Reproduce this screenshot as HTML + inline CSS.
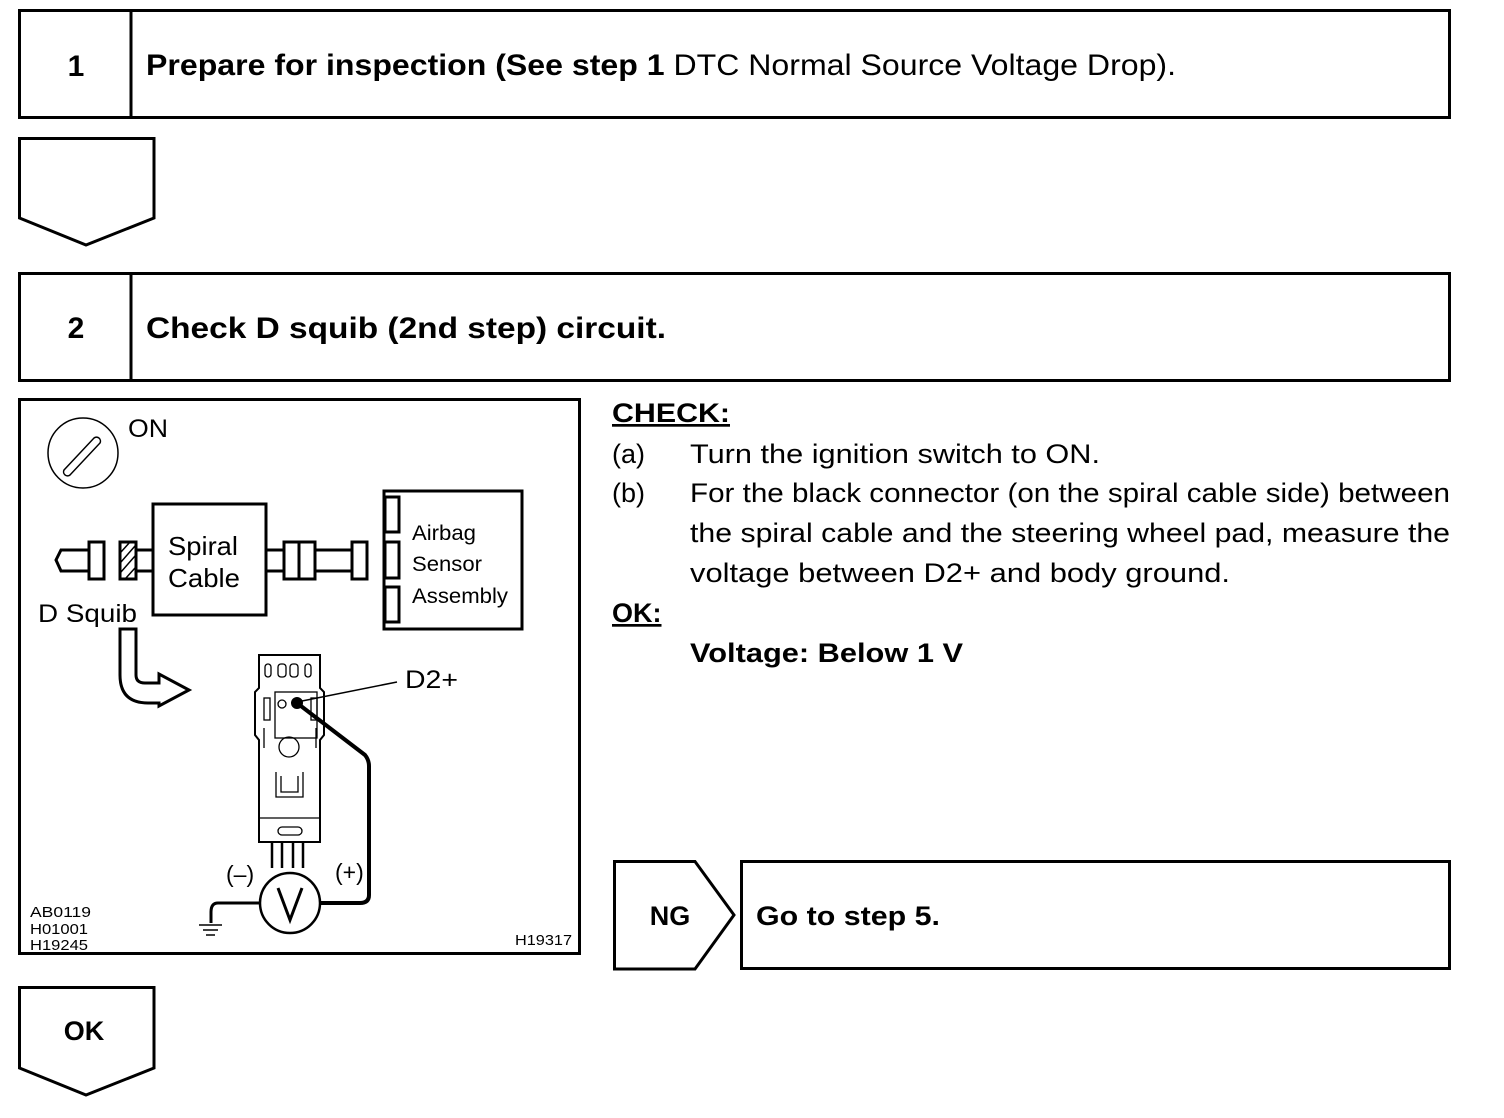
<!DOCTYPE html>
<html><head><style>
html,body{margin:0;padding:0;background:#fff}
svg{display:block}
text{font-family:"Liberation Sans",Arial,sans-serif;fill:#000}
</style></head><body>
<svg width="1504" height="1118" viewBox="0 0 1504 1118" xmlns="http://www.w3.org/2000/svg">
<g fill="none" stroke="#000" stroke-width="3">
<rect x="19.5" y="10.5" width="1430" height="107"/>
<line x1="131" y1="10" x2="131" y2="117"/>
<path d="M19.5,138.5 H154 V218 L86,245 L19.5,218 Z"/>
<rect x="19.5" y="273.5" width="1430" height="107"/>
<line x1="131" y1="273" x2="131" y2="381"/>
<rect x="19.5" y="399.5" width="560" height="554"/>
<path d="M614.5,861.5 H695 L734,915 L695,969 H614.5 Z"/>
<rect x="741.5" y="861.5" width="708" height="107"/>
<path d="M19.5,987.5 H154 V1068 L86,1095 L19.5,1068 Z"/>
</g>
<text x="76" y="76" font-size="30" font-weight="bold" text-anchor="middle">1</text>
<text x="146" y="75" font-size="30" textLength="1030" lengthAdjust="spacingAndGlyphs"><tspan font-weight="bold">Prepare for inspection (See step </tspan><tspan font-weight="bold">1 </tspan><tspan>DTC Normal Source Voltage Drop).</tspan></text>
<text x="76" y="338" font-size="30" font-weight="bold" text-anchor="middle">2</text>
<text x="146" y="338" font-size="30" font-weight="bold" textLength="520" lengthAdjust="spacingAndGlyphs">Check D squib (2nd step) circuit.</text>
<text x="670" y="925" font-size="27" font-weight="bold" text-anchor="middle">NG</text>
<text x="756" y="925" font-size="27" font-weight="bold" textLength="184" lengthAdjust="spacingAndGlyphs">Go to step 5.</text>
<text x="84" y="1040" font-size="27" font-weight="bold" text-anchor="middle">OK</text>

<text x="612" y="422" font-size="27" font-weight="bold" text-decoration="underline" textLength="118" lengthAdjust="spacingAndGlyphs">CHECK:</text>
<text x="612" y="463" font-size="27">(a)</text>
<text x="690" y="463" font-size="27" textLength="410" lengthAdjust="spacingAndGlyphs">Turn the ignition switch to ON.</text>
<text x="612" y="502" font-size="27">(b)</text>
<text x="690" y="502" font-size="27" textLength="760" lengthAdjust="spacingAndGlyphs">For the black connector (on the spiral cable side) between</text>
<text x="690" y="542" font-size="27" textLength="760" lengthAdjust="spacingAndGlyphs">the spiral cable and the steering wheel pad, measure the</text>
<text x="690" y="582" font-size="27" textLength="540" lengthAdjust="spacingAndGlyphs">voltage between D2+ and body ground.</text>
<text x="612" y="622" font-size="27" font-weight="bold" text-decoration="underline">OK:</text>
<text x="690" y="662" font-size="27" font-weight="bold" textLength="273" lengthAdjust="spacingAndGlyphs">Voltage: Below 1 V</text>

<!-- diagram -->
<g fill="none" stroke="#000" stroke-width="2">
<circle cx="83" cy="453" r="35" stroke-width="1.5"/>
<path d="M64,470 L94,438 A4,4 0 0 1 100,443 L70,475 A4,4 0 0 1 64,470 Z" stroke-width="1.5"/>
<rect x="153" y="504" width="113" height="111" stroke-width="3"/>
<path d="M384,491 H522 V629 H384 Z" stroke-width="3"/>
<rect x="385" y="497" width="14" height="35" stroke-width="3"/>
<rect x="385" y="542" width="14" height="36" stroke-width="3"/>
<rect x="385" y="587" width="14" height="35" stroke-width="3"/>
<path d="M266,550 H284 M266,571 H284 M315,550 H352 M315,571 H352 M136,550 H153 M136,571 H153 M89,550 H61 L56,560 L61,571 H89" stroke-width="3"/>
<rect x="284" y="542" width="31" height="37" stroke-width="3"/>
<line x1="299" y1="542" x2="299" y2="579" stroke-width="3"/>
<rect x="352" y="542" width="15" height="37" stroke-width="3"/>
<rect x="89" y="542" width="15" height="37" stroke-width="3"/>
<rect x="120" y="542" width="16" height="37" stroke-width="3"/>
<path d="M121,552 L130,542 M121,562 L135,546 M121,572 L135,556 M126,578 L135,568" stroke-width="1.5"/>
<path d="M120,629 V675 Q120,703 148,703 H159 V706 L189,690 L159,674 V683 H145 Q136,683 136,675 V629 Z" stroke-width="3"/>
<path d="M259,655 H320 V688 L324,692 V735 L320,740 V842 H259 V740 L255,735 V692 L259,688 Z"/>
<g stroke-width="1.3">
<rect x="265" y="664" width="6" height="13" rx="3"/><rect x="278" y="664" width="8" height="13" rx="3"/><rect x="290" y="664" width="8" height="13" rx="3"/><rect x="305" y="664" width="6" height="13" rx="3"/>
<rect x="264" y="698" width="6" height="22"/><rect x="311" y="698" width="6" height="22"/>
<rect x="275" y="692" width="42" height="46"/>
<circle cx="282" cy="704" r="4"/>
<line x1="264" y1="728" x2="264" y2="748"/><line x1="316" y1="728" x2="316" y2="748"/>
<circle cx="289" cy="747" r="10"/>
<path d="M276,772 V797 H303 V772 M281,776 V792 H298 V776"/>
<line x1="259" y1="818" x2="320" y2="818"/>
<rect x="278" y="827" width="24" height="8" rx="4"/>
</g>
<circle cx="297" cy="703" r="5" fill="#000"/>
<line x1="297" y1="702" x2="397" y2="682" stroke-width="1.5"/>
<path d="M272,842 V868 M282,842 V868 M293,842 V868 M303,842 V868" stroke-width="2.5"/>
<path d="M297,703 L365,755 Q369,760 369,766 V895 Q369,903 360,903 H320" stroke-width="4"/>
<circle cx="290" cy="903" r="30" stroke-width="2.5"/>
<path d="M278,888 L290,920 L302,888" stroke-width="3"/>
<path d="M260,903 H218 Q211,903 211,912 V923" stroke-width="3"/>
<path d="M199,925 H222 M203,930 H218 M206,935 H215" stroke-width="1.5"/>
</g>
<text x="128" y="437" font-size="25" textLength="40" lengthAdjust="spacingAndGlyphs">ON</text>
<text x="168" y="555" font-size="26" textLength="70" lengthAdjust="spacingAndGlyphs">Spiral</text>
<text x="168" y="587" font-size="26" textLength="72" lengthAdjust="spacingAndGlyphs">Cable</text>
<text x="412" y="540" font-size="21" textLength="64" lengthAdjust="spacingAndGlyphs">Airbag</text>
<text x="412" y="571" font-size="21" textLength="70" lengthAdjust="spacingAndGlyphs">Sensor</text>
<text x="412" y="603" font-size="21" textLength="96" lengthAdjust="spacingAndGlyphs">Assembly</text>
<text x="38" y="622" font-size="25" textLength="99" lengthAdjust="spacingAndGlyphs">D Squib</text>
<text x="405" y="688" font-size="25" textLength="53" lengthAdjust="spacingAndGlyphs">D2+</text>
<text x="226" y="882" font-size="23">(–)</text>
<text x="335" y="880" font-size="23">(+)</text>
<text x="30" y="917" font-size="15" textLength="61" lengthAdjust="spacingAndGlyphs">AB0119</text>
<text x="30" y="934" font-size="15" textLength="58" lengthAdjust="spacingAndGlyphs">H01001</text>
<text x="30" y="950" font-size="15" textLength="58" lengthAdjust="spacingAndGlyphs">H19245</text>
<text x="515" y="945" font-size="15" textLength="57" lengthAdjust="spacingAndGlyphs">H19317</text>
</svg>
</body></html>
